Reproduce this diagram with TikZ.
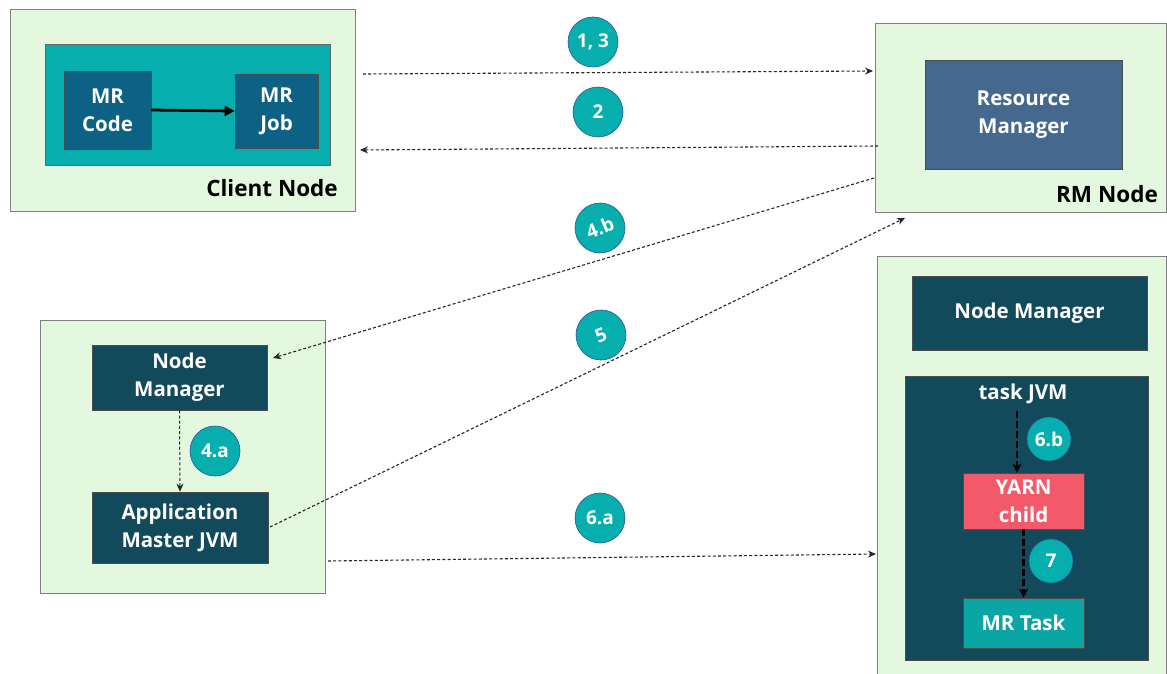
\documentclass[tikz,border=0pt]{standalone}
\usepackage{fontspec}
\setmainfont{Open Sans}
\usetikzlibrary{arrows.meta,calc}
\definecolor{nodebg}{HTML}{E3F8DE}
\definecolor{frame}{HTML}{808080}
\definecolor{tealfill}{HTML}{06AEAE}
\definecolor{codeblue}{HTML}{0D6184}
\definecolor{rmblue}{HTML}{45688E}
\definecolor{darkteal}{HTML}{12495B}
\definecolor{yarnred}{HTML}{F25A69}
\definecolor{tasktea}{HTML}{0AA6A6}
\definecolor{stepring}{HTML}{2F5597}
\tikzset{
  hostbox/.style={draw=frame, fill=nodebg, line width=1pt, inner sep=0pt},
  block/.style={draw=black!70, line width=0.6pt, inner sep=0pt, text=white,
    font=\bfseries\fontsize{20.5}{28}\selectfont, align=center},
  hostlabel/.style={font=\bfseries\fontsize{22.5}{26}\selectfont, anchor=base east, inner sep=0pt},
  stepmark/.style={circle, fill=tealfill, draw=stepring, line width=0.6pt,
    minimum size=50pt, inner sep=0pt, text=white, font=\bfseries\fontsize{19}{22}\selectfont},
  flow/.style={draw=black!85, line width=1.1pt, dash pattern=on 3pt off 2.2pt,
    -{Stealth[length=8pt,width=7pt]}},
  innerflow/.style={draw=black, line width=2.6pt, dash pattern=on 7pt off 3pt,
    -{Stealth[length=9pt,width=9pt]}},
}
\begin{document}
\begin{tikzpicture}[x=1pt,y=-1pt]
\useasboundingbox (0,0) rectangle (1167,674);
\fill[white] (0,0) rectangle (1167,674);

% client side
\node[hostbox, minimum width=345pt, minimum height=201pt] (client) at (182.5,110.5) {};
\node[draw=black!60, fill=tealfill, line width=0.6pt, minimum width=285pt, minimum height=121pt, inner sep=0pt] (clientjvm) at (187.5,104.5) {};
\node[block, fill=codeblue, minimum width=87pt, minimum height=78pt] (mrcode) at (107.5,110) {MR\\Code};
\node[block, fill=codeblue, minimum width=83pt, minimum height=74pt] (mrjob) at (276.5,111) {MR\\Job};
\node[hostlabel] (clientlbl) at (338,196) {Client Node};
\draw[line width=2.8pt, -{Triangle[length=10pt,width=10pt]}] (mrcode.east) -- (mrjob.west);

% resource manager host
\node[hostbox, minimum width=291pt, minimum height=188pt] (rmnode) at (1020.5,118) {};
\node[block, fill=rmblue, minimum width=197pt, minimum height=109pt] (rm) at (1023.5,114.5) {Resource\\Manager};
\node[hostlabel] (rmlbl) at (1158,202) {RM Node};

% application master host
\node[hostbox, minimum width=285pt, minimum height=273pt] (amhost) at (182.5,456.5) {};
\node[block, fill=darkteal, minimum width=175pt, minimum height=65pt] (nmleft) at (179.5,377.5) {Node\\Manager};
\node[block, fill=darkteal, minimum width=176pt, minimum height=71pt] (amjvm) at (180,527.5) {Application\\Master JVM};

% worker host
\node[hostbox, minimum width=289pt, minimum height=430pt] (worker) at (1021.5,471) {};
\node[block, fill=darkteal, minimum width=235pt, minimum height=74pt] (nmright) at (1029.5,313) {Node Manager};
\node[block, fill=darkteal, minimum width=243pt, minimum height=284pt] (taskjvm) at (1026.5,518) {};
\node[text=white, font=\bfseries\fontsize{20.5}{24}\selectfont, inner sep=0pt] (taskjvmlbl) at (1023,394) {task JVM};
\node[block, fill=yarnred, minimum width=121pt, minimum height=56pt] (yarn) at (1023.5,501) {YARN\\child};
\node[block, fill=tasktea, minimum width=121pt, minimum height=50pt] (mrtask) at (1023.5,623) {MR Task};

% connector end points
\coordinate (c1s) at (363,74);
\coordinate (c1e) at (873,71);
\coordinate (c2s) at (878,146);
\coordinate (c2e) at (360,150);
\coordinate (c4s) at (874,178);
\coordinate (c4e) at (273,358);
\coordinate (c5s) at (270,527);
\coordinate (c5e) at (905,218);
\coordinate (c6s) at (328,561);
\coordinate (c6e) at (876,554);
\coordinate (tj) at (1017,411);

% message flow
\draw[flow] (c1s) -- (c1e);
\draw[flow] (c2s) -- (c2e);
\draw[flow] (c4s) -- (c4e);
\draw[flow] (c5s) -- (c5e);
\draw[flow] (c6s) -- (c6e);
\draw[flow, line width=1pt] (nmleft.south) -- (amjvm.north);
\draw[innerflow] (tj) -- (tj |- yarn.north);
\draw[innerflow] (yarn.south) -- (mrtask.north);

% step markers
\node[stepmark] (s13) at (593,42) {1, 3};
\node[stepmark] (s2) at (598,112) {2};
\node[stepmark, rotate=22] (s4b) at (600,228) {4.b};
\node[stepmark, rotate=22] (s5) at (601,335) {5};
\node[stepmark] (s4a) at (215,451) {4.a};
\node[stepmark] (s6a) at (600,518) {6.a};
\node[stepmark, minimum size=44pt] (s6b) at (1049,439) {6.b};
\node[stepmark, minimum size=44pt] (s7) at (1051,561) {7};
\end{tikzpicture}
\end{document}
